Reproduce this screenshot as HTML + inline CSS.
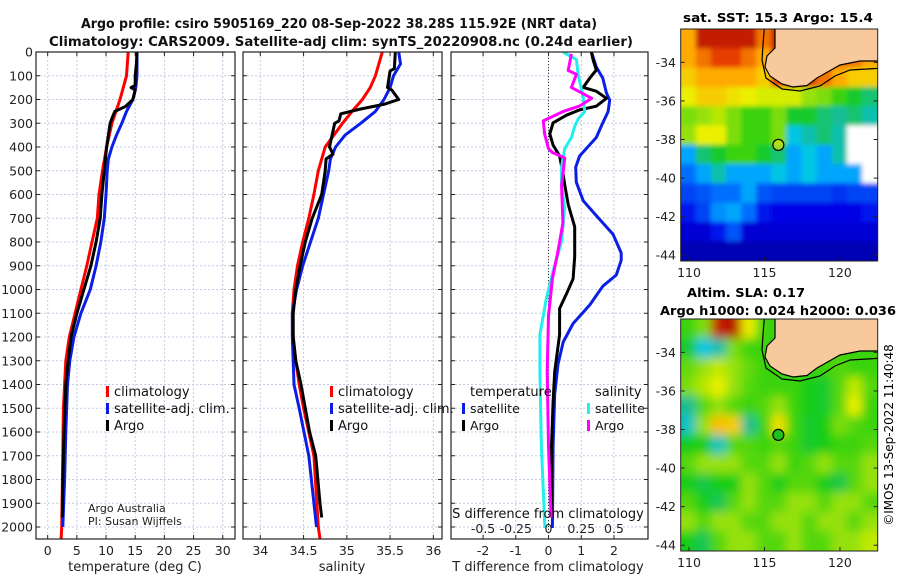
<!DOCTYPE html>
<html><head><meta charset="utf-8"><style>
html,body{margin:0;padding:0;background:#fff;}
svg{display:block;font-family:"DejaVu Sans","Liberation Sans",sans-serif;}
</style></head><body>
<svg id="fig" width="900" height="580" viewBox="0 0 900 580" xmlns="http://www.w3.org/2000/svg">
<defs>
<filter id="blurSST" x="-10%" y="-10%" width="120%" height="120%"><feGaussianBlur stdDeviation="2.5"/></filter>
<filter id="blurSLA" x="-10%" y="-10%" width="120%" height="120%"><feGaussianBlur stdDeviation="5"/></filter>
</defs>
<g id="titles" font-weight="bold" font-size="13" text-anchor="middle" fill="#111">
<text x="339" y="28" textLength="516" lengthAdjust="spacingAndGlyphs">Argo profile: csiro 5905169_220 08-Sep-2022 38.28S 115.92E (NRT data)</text>
<text x="341" y="46" textLength="584" lengthAdjust="spacingAndGlyphs">Climatology: CARS2009. Satellite-adj clim: synTS_20220908.nc (0.24d earlier)</text>
</g>
<text x="778" y="22" font-weight="bold" font-size="12.5" text-anchor="middle" textLength="190" lengthAdjust="spacingAndGlyphs">sat. SST: 15.3 Argo: 15.4</text>
<text x="746" y="297" font-weight="bold" font-size="12.5" text-anchor="middle" textLength="118" lengthAdjust="spacingAndGlyphs">Altim. SLA: 0.17</text>
<text x="778" y="315" font-weight="bold" font-size="12.5" text-anchor="middle" textLength="236" lengthAdjust="spacingAndGlyphs">Argo h1000: 0.024 h2000: 0.036</text>
<text transform="translate(893,435) rotate(-90)" font-size="12" text-anchor="middle">©IMOS 13-Sep-2022 11:40:48</text>
<g id="root"></g>
</svg>
<script>
// ---------- data ----------
const depthTicks = [0,100,200,300,400,500,600,700,800,900,1000,1100,1200,1300,1400,1500,1600,1700,1800,1900,2000];
const tempTicks = [0,5,10,15,20,25,30];
const salTicks = [34,34.5,35,35.5,36];
const salTickLabels = ["34","34.5","35","35.5","36"];
const tdiffTicks = [-2,-1,0,1,2];
const sdiffTicks = [-0.5,-0.25,0,0.25,0.5];
const sdiffTickLabels = ["-0.5","-0.25","0","0.25","0.5"];

const climTDepth = [0,100,200,300,400,500,600,700,800,900,1000,1100,1200,1300,1400,1500,1700,2000,2050];
const climT = [13.8,13.5,12.4,11.0,10.1,9.4,8.8,8.5,7.6,6.7,5.7,4.7,3.7,3.1,2.9,2.7,2.6,2.4,2.3];
const satTDepth = [0,100,150,200,250,300,350,400,450,500,600,700,800,900,1000,1100,1200,1300,1400,1600,1800,2000];
const satT = [15.3,15.3,15.1,14.6,13.5,12.7,11.8,11.0,10.4,10.2,10.0,9.7,9.1,8.3,7.3,5.7,4.5,3.8,3.4,3.1,2.9,2.6];
const argoTDepth = [0,50,100,140,150,160,200,230,250,280,300,350,400,500,600,700,800,900,1000,1100,1200,1300,1400,1600,1800,1960];
const argoT = [15.3,15.2,15.0,15.0,14.3,15.0,14.6,13.3,11.5,11.0,10.7,10.4,10.1,9.7,9.3,9.0,8.3,7.4,6.2,5.0,4.0,3.5,3.1,2.8,2.6,2.5];

const climSDepth = [0,100,150,200,250,300,400,450,500,600,700,800,900,1000,1100,1200,1300,1400,1500,1700,2000,2050];
const climS = [35.41,35.33,35.27,35.18,35.06,34.95,34.75,34.71,34.67,34.62,34.56,34.49,34.43,34.39,34.37,34.38,34.41,34.45,34.5,34.62,34.67,34.69];
const satSDepth = [0,50,100,150,200,250,300,350,400,450,500,600,700,800,900,1000,1100,1200,1300,1400,1500,1700,2000];
const satS = [35.6,35.62,35.54,35.5,35.43,35.33,35.16,34.98,34.87,34.81,34.79,34.73,34.67,34.58,34.49,34.42,34.37,34.37,34.38,34.39,34.45,34.56,34.65];
const argoSDepth = [0,70,80,150,160,200,220,240,260,290,300,350,400,430,450,500,600,700,800,900,1000,1100,1200,1300,1400,1600,1700,1900,1960];
const argoS = [35.56,35.55,35.5,35.47,35.52,35.6,35.43,35.16,34.93,34.91,34.86,34.83,34.8,34.84,34.76,34.75,34.71,34.6,34.52,34.46,34.41,34.38,34.38,34.41,34.47,34.57,34.64,34.69,34.71];

const satDTDepth = [0,63,110,172,203,251,298,360,438,485,548,626,689,767,846,877,939,986,1065,1143,1221,1315,1441,1660,2004];
const satDT = [1.31,1.46,1.66,1.77,1.87,1.82,1.66,1.46,0.95,0.83,0.85,1.06,1.46,1.97,2.22,2.22,2.07,1.66,1.26,0.75,0.45,0.29,0.19,0.14,0.12];
const argoDTDepth = [0,31,76,110,149,165,195,228,244,266,298,345,392,438,516,563,642,736,861,955,1018,1080,1190,1346,1472,1660,1960];
const argoDT = [1.31,1.36,1.46,1.26,1.06,1.46,1.77,1.46,0.95,0.55,0.14,0.04,0.14,0.34,0.45,0.5,0.6,0.8,0.8,0.75,0.55,0.34,0.34,0.19,0.14,0.09,0.09];
const satDSDepth = [0,31,94,188,251,282,313,360,407,485,563,657,798,923,1033,1190,1346,1660,2004];
const satDS = [0.111,0.213,0.226,0.264,0.277,0.226,0.2,0.175,0.124,0.099,0.099,0.124,0.099,0.035,-0.015,-0.066,-0.066,-0.054,-0.028];
const argoDSDepth = [8,78,94,149,195,227,251,290,345,407,423,446,563,720,845,955,1111,1346,1660,1960];
const argoDS = [0.175,0.15,0.213,0.175,0.33,0.24,0.11,-0.04,-0.03,0,0.03,0.124,0.1,0.11,0.07,0.03,0,-0.01,0,0.02];

const mapLonTicks = [110,115,120];
const mapLatTicks = [-34,-36,-38,-40,-42,-44];
const argoLon = 115.92, argoLat = -38.28;
const sstGrid = [
[0.8,0.95,0.95,0.95,0.95,0.85,0.95,0.9,0.9,0.9,0.9,0.9,0.9],
[0.8,0.85,0.9,0.9,0.85,0.8,0.95,0.9,0.9,0.9,0.85,0.85,0.8],
[0.75,0.8,0.8,0.8,0.8,0.75,0.9,0.95,0.9,0.85,0.8,0.75,0.75],
[0.7,0.75,0.75,0.72,0.7,0.68,0.68,0.68,0.62,0.6,0.55,0.5,0.45],
[0.6,0.62,0.65,0.6,0.55,0.55,0.6,0.5,0.5,0.45,0.42,0.45,0.4],
[0.62,0.7,0.7,0.6,0.55,0.55,0.6,0.35,0.4,0.45,0.4,null,null],
[0.3,0.45,0.5,0.55,0.55,0.5,0.45,0.3,0.35,0.3,0.4,null,null],
[0.25,0.3,0.4,0.3,0.3,0.3,0.35,0.3,0.35,0.3,0.3,0.3,null],
[0.2,0.22,0.25,0.25,0.3,0.22,0.2,0.2,0.2,0.2,0.18,0.2,0.2],
[0.15,0.2,0.28,0.3,0.25,0.15,0.12,0.12,0.12,0.12,0.12,0.12,0.15],
[0.1,0.1,0.15,0.22,0.1,0.1,0.1,0.1,0.1,0.1,0.1,0.1,0.1],
[0.06,0.06,0.06,0.06,0.06,0.06,0.06,0.06,0.06,0.06,0.06,0.06,0.06]];
const slaGrid = [
[0.55,0.6,0.95,0.97,0.7,0.55,0.55,0.55,0.55,0.55,0.55,0.55,0.55],
[0.5,0.35,0.4,0.6,0.55,0.55,0.55,0.55,0.55,0.55,0.55,0.55,0.55],
[0.58,0.62,0.66,0.62,0.58,0.55,0.55,0.55,0.55,0.55,0.57,0.55,0.55],
[0.6,0.65,0.7,0.62,0.57,0.55,0.55,0.55,0.52,0.5,0.57,0.66,0.57],
[0.42,0.57,0.62,0.57,0.55,0.57,0.62,0.55,0.52,0.5,0.57,0.7,0.55],
[0.38,0.62,0.77,0.75,0.42,0.55,0.72,0.55,0.5,0.52,0.6,0.57,0.55],
[0.52,0.52,0.38,0.57,0.57,0.55,0.57,0.55,0.5,0.52,0.55,0.55,0.57],
[0.57,0.62,0.62,0.62,0.57,0.57,0.62,0.55,0.57,0.62,0.57,0.57,0.62],
[0.52,0.48,0.52,0.52,0.62,0.57,0.52,0.57,0.57,0.52,0.48,0.57,0.62],
[0.57,0.52,0.47,0.57,0.62,0.57,0.57,0.62,0.62,0.57,0.62,0.62,0.57],
[0.62,0.57,0.62,0.62,0.57,0.57,0.62,0.62,0.57,0.62,0.62,0.57,0.62],
[0.52,0.47,0.57,0.62,0.62,0.57,0.57,0.62,0.57,0.57,0.62,0.62,0.66]];

// ---------- helpers ----------
const NS = "http://www.w3.org/2000/svg";
const root = document.getElementById('root');
function mk(tag, attrs, parent){ const e=document.createElementNS(NS,tag); for(const k in attrs) e.setAttribute(k,attrs[k]); (parent||root).appendChild(e); return e; }

const TOP=52, BOT=539;
const yD = d => TOP + d*0.2375;
const panels = [
  {key:'temp', x0:36, x1:235, vmin:-2, vmax:32.1},
  {key:'sal', x0:243, x1:442, vmin:33.8, vmax:36.1},
  {key:'diff', x0:451, x1:648, vmin:-2.98, vmax:3.04}
];
function xf(p){ return v => p.x0 + (v-p.vmin)/(p.vmax-p.vmin)*(p.x1-p.x0); }
const xT = xf(panels[0]), xS = xf(panels[1]), xDT = xf(panels[2]);
const xDS = s => xDT(s*4);

function panelFrame(p, idx){
  const g = mk('g',{});
  
  
  const cp = mk('clipPath',{id:'clip'+idx}, g);
  mk('rect',{x:p.x0,y:TOP,width:p.x1-p.x0,height:BOT-TOP},cp);
  depthTicks.forEach(d=>{
    const l = mk('line',{x1:p.x0,x2:p.x1,y1:yD(d),y2:yD(d),stroke:'#c4cbe6','stroke-width':1,'stroke-dasharray':'2,2'},g);
    
    
    mk('line',{x1:p.x0,x2:p.x0+4,y1:yD(d),y2:yD(d),stroke:'#222'},g);
    mk('line',{x1:p.x1-4,x2:p.x1,y1:yD(d),y2:yD(d),stroke:'#222'},g);
  });
  return g;
}
function vgrid(g, xs, xfn){
  xs.forEach(v=>{
    const x=xfn(v);
    const l = mk('line',{x1:x,x2:x,y1:TOP,y2:BOT,stroke:'#c4cbe6','stroke-width':1,'stroke-dasharray':'2,2'},g);
    
    
    mk('line',{x1:x,x2:x,y1:BOT-4,y2:BOT,stroke:'#222'},g);
    mk('line',{x1:x,x2:x,y1:TOP,y2:TOP+4,stroke:'#222'},g);
  });
}
function series(g, depths, vals, xfn, color, name, idx, w){
  const pts = depths.map((d,i)=> xfn(vals[i]).toFixed(1)+','+yD(d).toFixed(1)).join(' ');
  const pl = mk('polyline',{points:pts,fill:'none',stroke:color,'stroke-width':w||3,'stroke-linejoin':'round','clip-path':'url(#clip'+idx+')'},g);
  
  
}
function frame(g,p){ mk('rect',{x:p.x0,y:TOP,width:p.x1-p.x0,height:BOT-TOP,fill:'none',stroke:'#222','stroke-width':1.2},g); }
function xticks(g, vals, labels, xfn, y){
  vals.forEach((v,i)=>{
    const t = mk('text',{x:xfn(v),y:y,'font-size':12.5,'text-anchor':'middle',fill:'#222'},g);
    t.textContent = labels ? labels[i] : String(v);
    
    
  });
}
function legend(g, x, y0, items, fs){
  items.forEach((it,i)=>{
    const y = y0 + i*17;
    mk('rect',{x:x,y:y-10,width:3,height:11,fill:it[1]},g);
    const t = mk('text',{x:x+8,y:y,'font-size':fs||13,fill:'#111'},g);
    t.textContent = it[0];
    
    
  });
}

// ---------- panel 1 ----------
let g = panelFrame(panels[0],0);
vgrid(g, tempTicks, xT);
series(g, climTDepth, climT, xT, '#f00', 'temp-climatology-line',0);
series(g, satTDepth, satT, xT, '#0a1ee6', 'temp-satellite-line',0);
series(g, argoTDepth, argoT, xT, '#000', 'temp-argo-line',0);
frame(g,panels[0]);
depthTicks.forEach(d=>{
  const t = mk('text',{x:33,y:yD(d)+4.5,'font-size':12.5,'text-anchor':'end',fill:'#222'},g);
  t.textContent = String(d);
  
  
});
xticks(g, tempTicks, null, xT, 555);
let lab = mk('text',{x:135,y:571,'font-size':13,'text-anchor':'middle',fill:'#222'},g);
lab.textContent='temperature (deg C)';


legend(g, 106, 396, [['climatology','#f00'],['satellite-adj. clim.','#0a1ee6'],['Argo','#000']]);
lab = mk('text',{x:88,y:512,'font-size':11,fill:'#222'},g); lab.textContent='Argo Australia';


lab = mk('text',{x:88,y:525,'font-size':11,fill:'#222'},g); lab.textContent='PI: Susan Wijffels';



// ---------- panel 2 ----------
g = panelFrame(panels[1],1);
vgrid(g, salTicks, xS);
series(g, climSDepth, climS, xS, '#f00', 'sal-climatology-line',1);
series(g, satSDepth, satS, xS, '#0a1ee6', 'sal-satellite-line',1);
series(g, argoSDepth, argoS, xS, '#000', 'sal-argo-line',1);
frame(g,panels[1]);
xticks(g, salTicks, salTickLabels, xS, 555);
lab = mk('text',{x:342,y:571,'font-size':13,'text-anchor':'middle',fill:'#222'},g);
lab.textContent='salinity';


legend(g, 330, 396, [['climatology','#f00'],['satellite-adj. clim.','#0a1ee6'],['Argo','#000']]);

// ---------- panel 3 ----------
g = panelFrame(panels[2],2);
vgrid(g, tdiffTicks, xDT);
let z = mk('line',{x1:xDT(0),x2:xDT(0),y1:TOP,y2:BOT,stroke:'#333','stroke-width':1,'stroke-dasharray':'1,2'},g);


series(g, satDTDepth, satDT, xDT, '#0a1ee6', 'tdiff-satellite-line',2);
series(g, argoDTDepth, argoDT, xDT, '#000', 'tdiff-argo-line',2);
series(g, satDSDepth, satDS, xDS, '#22eeee', 'sdiff-satellite-line',2);
series(g, argoDSDepth, argoDS, xDS, '#f0f', 'sdiff-argo-line',2);
frame(g,panels[2]);
xticks(g, tdiffTicks, null, xDT, 555);
xticks(g, sdiffTicks, sdiffTickLabels, xDS, 533);
lab = mk('text',{x:548,y:518,'font-size':13,'text-anchor':'middle',fill:'#111'},g);
lab.textContent='S difference from climatology';


lab = mk('text',{x:548,y:571,'font-size':13,'text-anchor':'middle',fill:'#222'},g);
lab.textContent='T difference from climatology';


lab = mk('text',{x:470,y:396,'font-size':13,fill:'#111'},g); lab.textContent='temperature';


lab = mk('text',{x:595,y:396,'font-size':13,fill:'#111'},g); lab.textContent='salinity';


legend(g, 462, 413, [['satellite','#0a1ee6'],['Argo','#000']], 12.5);
legend(g, 587, 413, [['satellite','#22eeee'],['Argo','#f0f']], 12.5);

// ---------- maps ----------
const stops = [[0,[0,0,130]],[0.12,[0,0,230]],[0.25,[0,110,255]],[0.33,[0,200,250]],[0.42,[20,190,150]],[0.52,[20,205,20]],[0.62,[150,225,10]],[0.7,[235,240,0]],[0.8,[255,170,0]],[0.9,[230,60,0]],[1,[160,0,0]]];
function cmap(v){
  for(let i=1;i<stops.length;i++){
    if(v<=stops[i][0]){ const a=stops[i-1],b=stops[i],t=(v-a[0])/(b[0]-a[0]);
      return 'rgb('+a[1].map((c,k)=>Math.round(c+(b[1][k]-c)*t)).join(',')+')'; }
  }
  return 'rgb(160,0,0)';
}
const MX0=680.7, MX1=877.7, LON0=109.45, LON1=122.5, LAT0=-32.27, LAT1=-44.3;
function drawMap(top, grid, name, dotFill, filt){
  const bot = top+232;
  const mx = lon => MX0 + (lon-LON0)/(LON1-LON0)*(MX1-MX0);
  const my = lat => top + (lat-LAT0)/(LAT1-LAT0)*(bot-top);
  const mg = mk('g',{});
  
  
  const cid='clip'+name;
  const cp = mk('clipPath',{id:cid},mg);
  mk('rect',{x:MX0,y:top,width:MX1-MX0,height:bot-top},cp);
  const outer = mk('g',{'clip-path':'url(#'+cid+')'},mg);
  const cells = mk('g',{filter:'url(#'+filt+')'},outer);
  const nr = grid.length, nc = grid[0].length, E = 14;
  grid.forEach((row,r)=>row.forEach((v,c)=>{
    let x=mx(LON0+c), y=my(LAT0-r);
    let w=mx(LON0+c+1)-x+0.6, h=my(LAT0-r-1)-y+0.6;
    if(c===0){x-=E;w+=E;} if(c===nc-1){w+=E;}
    if(r===0){y-=E;h+=E;} if(r===nr-1){h+=E;}
    const rc = mk('rect',{x:x.toFixed(1),y:y.toFixed(1),width:w.toFixed(1),height:h.toFixed(1),fill: v===null?'#fff':cmap(v)},cells);
    
    
  }));
  const o = top-29;
  const land = mk('polygon',{points:[[775,20],[775,48],[767,56],[765,67],[770,76],[782,84],[793,87],[807,85.5],[817,78],[830,70.6],[840,65],[860,61],[885,61],[885,20]].map(p=>p[0]+','+(p[1]+o)).join(' '),fill:'#f8c99c',stroke:'#000','stroke-width':1.2},outer);
  
  
  const iso = mk('polyline',{points:[[765,20],[763,45],[762,60],[766,78],[782,89],[800,91],[820,86],[835,76],[850,70],[885,68]].map(p=>p[0]+','+(p[1]+o)).join(' '),fill:'none',stroke:'#000','stroke-width':1.2},outer);
  
  
  const dot = mk('circle',{cx:mx(argoLon),cy:my(argoLat),r:5.5,fill:dotFill,stroke:'#000','stroke-width':1.2},mg);
  
  
  mk('rect',{x:MX0,y:top,width:MX1-MX0,height:bot-top,fill:'none',stroke:'#222','stroke-width':1},mg);
  mapLatTicks.forEach(lat=>{
    const y=my(lat);
    mk('line',{x1:MX0,x2:MX0+4,y1:y,y2:y,stroke:'#222'},mg);
    mk('line',{x1:MX1-4,x2:MX1,y1:y,y2:y,stroke:'#222'},mg);
    const t=mk('text',{x:676,y:y+4.5,'font-size':12.5,'text-anchor':'end',fill:'#222'},mg);
    t.textContent=String(lat);
    
    
  });
  mapLonTicks.forEach(lon=>{
    const x=mx(lon);
    mk('line',{x1:x,x2:x,y1:bot-4,y2:bot,stroke:'#222'},mg);
    const t=mk('text',{x:x,y:bot+16,'font-size':12.5,'text-anchor':'middle',fill:'#222'},mg);
    t.textContent=String(lon);
    
    
  });
}
drawMap(29, sstGrid, 'sst-map', 'rgba(230,230,0,0.6)', 'blurSST');
drawMap(319, slaGrid, 'sla-map', '#20c020', 'blurSLA');
</script>
</body></html>
